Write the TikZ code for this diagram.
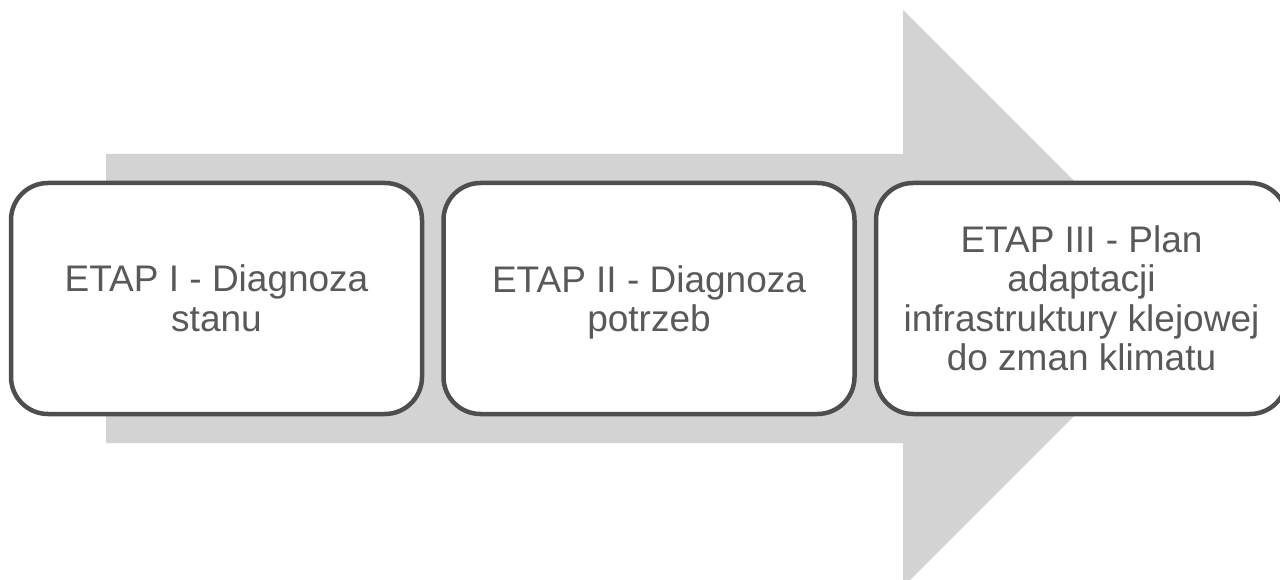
\documentclass[tikz,border=0pt]{standalone}
\usepackage{fontspec}
\setmainfont{Liberation Sans}
\usetikzlibrary{positioning}
\definecolor{arrowgray}{RGB}{211,211,211}
\definecolor{framegray}{RGB}{77,78,82}
\definecolor{textgray}{RGB}{89,89,89}
\tikzset{etap/.style={draw=framegray, line width=4.5pt, fill=white, rounded corners=37pt,
		minimum width=411pt, minimum height=231pt, align=center, text=textgray,
		font=\fontsize{37}{39.5}\selectfont}}
\begin{document}
\begin{tikzpicture}[x=1pt, y=-1pt, line join=round]
				\useasboundingbox (0,0) rectangle (1280,580);
				\coordinate (S1) at (106,154);
				\coordinate (S2) at (903,154);
				\coordinate (H1) at (903,10);
				\coordinate (T) at (1191.5,298.5);
				\coordinate (H2) at (903,587);
				\coordinate (S3) at (903,443);
				\coordinate (S4) at (106,443);
				\fill[arrowgray](S1)--(S2)--(H1)--(T)--(H2)--(S3)--(S4)--cycle;
				\node[etap] (E1) at (216.5,298.5) {ETAP I - Diagnoza\\stanu};
				\node[etap, right=17pt of E1] (E2) {ETAP II - Diagnoza\\\smash{potrzeb}};
				\node[etap, right=17pt of E2] (E3) {ETAP III - Plan\\adaptacji\\infrastruktury klejowej\\do zman klimatu};
			\end{tikzpicture}
\end{document}
